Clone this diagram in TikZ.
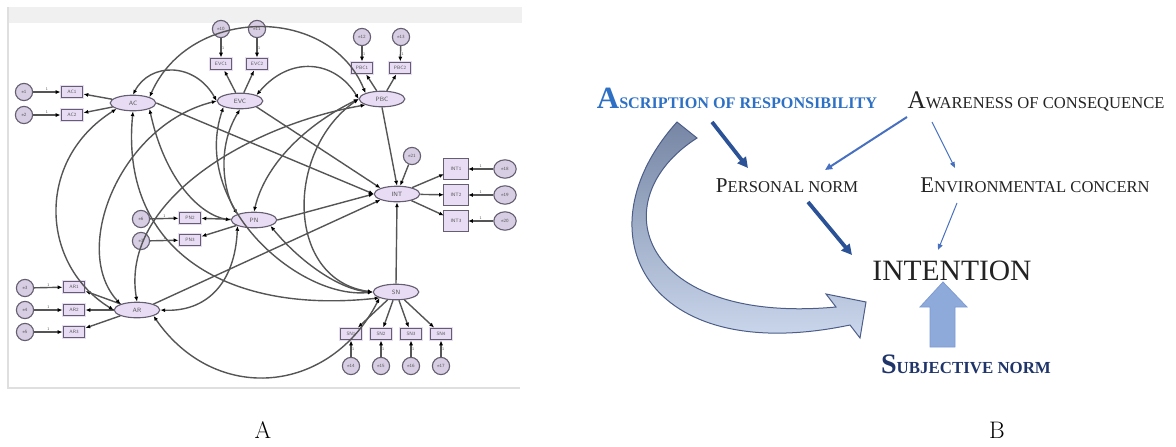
\documentclass[tikz,border=0pt]{standalone}
\usepackage{fontspec}
\newfontfamily\tms{Liberation Serif}
\usetikzlibrary{arrows.meta,shapes.geometric,calc}
\definecolor{lav}{RGB}{232,220,244}
\definecolor{errfill}{RGB}{216,206,228}
\definecolor{lavd}{RGB}{100,94,112}
\definecolor{amos}{RGB}{85,85,85}
\definecolor{aorblue}{RGB}{45,112,196}
\definecolor{navy}{RGB}{31,52,105}
\definecolor{darkb}{RGB}{43,82,150}
\definecolor{midb}{RGB}{72,112,192}
\definecolor{txt}{RGB}{35,35,35}
\newcommand{\mysc}[4]{{\fontsize{#3}{#3}\selectfont #1}{\fontsize{#4}{#4}\selectfont #2}}
\begin{document}
\begin{tikzpicture}[x=0.25mm,y=-0.25mm,
  lat/.style={ellipse,draw=lavd,fill=lav,line width=0.28mm,minimum width=11.4mm,minimum height=3.9mm,inner sep=0pt,font=\fontsize{4.4}{5}\sffamily,text=amos},
  ind/.style={rectangle,draw=lavd,double=lav,double distance=0.25mm,fill=lav,minimum width=5.6mm,minimum height=3.1mm,inner sep=0pt,font=\fontsize{3.4}{3.4}\sffamily,text=amos},
  indt/.style={ind,minimum width=5.9mm,minimum height=4.8mm},
  err/.style={circle,draw=lavd,fill=errfill,line width=0.28mm,minimum size=4.3mm,inner sep=0pt,font=\fontsize{3.4}{3.4}\sffamily,text=amos},
  errw/.style={err,ellipse,minimum width=5.6mm,minimum height=4.6mm},
  reg/.style={-{Latex[length=1.2mm,width=1mm,color=black]},draw=amos,line width=0.35mm},
  cov/.style={{Latex[length=1.2mm,width=1mm,color=black]}-{Latex[length=1.2mm,width=1mm,color=black]},draw=amos,line width=0.35mm},
  one/.style={font=\fontsize{2.8}{3}\sffamily,text=amos,inner sep=0.3pt},
  bt/.style={font=\tms,text=txt,inner sep=0pt,anchor=base},
  thickarr/.style={-{Triangle[length=2.6mm,width=2.6mm]},draw=darkb,line width=0.95mm},
  medarr/.style={-{Triangle[length=1.8mm,width=1.6mm]},draw=midb,line width=0.5mm},
  thinarr/.style={-{Triangle[length=1.5mm,width=1.2mm]},draw=midb,line width=0.25mm},
  panel/.style={font=\fontsize{17}{17}\selectfont,inner sep=0pt}
]
\useasboundingbox (0,0) rectangle (1176,446);

% ---------------- frame of the path model ----------------
\fill[gray!12] (8,7) rectangle (522,23);
\draw[gray!25,line width=0.3mm] (8,7) -- (8,388) -- (520,388);

% latent variables
\node[lat] (AC)  at (133,103) {AC};
\node[lat] (EVC) at (240,101) {EVC};
\node[lat] (PBC) at (382,99)  {PBC};
\node[lat] (INT) at (397,194) {INT};
\node[lat] (PN)  at (254,220) {PN};
\node[lat] (AR)  at (137,310) {AR};
\node[lat] (SN)  at (396,292) {SN};

% indicators
\node[ind] (AC1) at (72,92)  {AC1};
\node[ind] (AC2) at (72,115) {AC2};
\node[ind] (EVC1) at (221,64) {EVC1};
\node[ind] (EVC2) at (257,64) {EVC2};
\node[ind] (PBC1) at (362,68) {PBC1};
\node[ind] (PBC2) at (400,68) {PBC2};
\node[indt] (INT1) at (456,169) {INT1};
\node[indt] (INT2) at (456,195) {INT2};
\node[indt] (INT3) at (456,221) {INT3};
\node[ind] (PN2) at (190,218) {PN2};
\node[ind] (PN3) at (190,240) {PN3};
\node[ind] (AR1) at (74,287) {AR1};
\node[ind] (AR2) at (74,310) {AR2};
\node[ind] (AR3) at (74,332) {AR3};
\node[ind] (SN1) at (351,334) {SN1};
\node[ind] (SN2) at (381,334) {SN2};
\node[ind] (SN3) at (411,334) {SN3};
\node[ind] (SN4) at (441,334) {SN4};

% error terms
\node[err] (e1) at (24,92)  {e1};
\node[err] (e2) at (24,115) {e2};
\node[err] (e10) at (221,29) {e10};
\node[err] (e11) at (257,29) {e11};
\node[err] (e12) at (362,37) {e12};
\node[err] (e13) at (401,37) {e13};
\node[err] (e21) at (412,156) {e21};
\node[errw] (e18) at (505,169) {e18};
\node[errw] (e19) at (505,195) {e19};
\node[errw] (e20) at (505,221) {e20};
\node[err] (e6) at (141,219) {e6};
\node[err] (e7) at (141,241) {e7};
\node[err] (e3) at (25,288) {e3};
\node[err] (e4) at (25,310) {e4};
\node[err] (e5) at (25,332) {e5};
\node[err] (e14) at (351,366) {e14};
\node[err] (e15) at (381,366) {e15};
\node[err] (e16) at (411,366) {e16};
\node[err] (e17) at (441,366) {e17};

% error paths
\foreach \e/\i in {e1/AC1,e2/AC2,e6/PN2,e7/PN3,e3/AR1,e4/AR2,e5/AR3}
  \draw[reg] (\e) -- node[one,above]{1} (\i);
\foreach \e/\i in {e18/INT1,e19/INT2,e20/INT3}
  \draw[reg] (\e) -- node[one,above]{1} (\i);
\foreach \e/\i in {e10/EVC1,e11/EVC2,e12/PBC1,e13/PBC2,e14/SN1,e15/SN2,e16/SN3,e17/SN4}
  \draw[reg] (\e) -- node[one,right]{1} (\i);
\draw[reg] (e21) -- (INT);

% loadings
\foreach \l/\i in {AC/AC1,AC/AC2,EVC/EVC1,EVC/EVC2,PBC/PBC1,PBC/PBC2,INT/INT1,INT/INT2,INT/INT3,PN/PN2,PN/PN3,AR/AR1,AR/AR2,AR/AR3,SN/SN1,SN/SN2,SN/SN3,SN/SN4}
  \draw[reg] (\l) -- (\i);

% structural paths into intention
\draw[reg] (AC.east) -- (INT.west);
\draw[reg] (EVC.south east) -- (INT.north west);
\draw[reg] (PBC.south) -- (INT.north);
\draw[reg] (PN.east) -- (INT.west);
\draw[reg] (AR.north east) -- (INT.south west);
\draw[reg] (SN.north) -- (INT.south);

% covariances among exogenous constructs
\draw[cov] (AC.north) .. controls (150,62) and (195,62) .. (EVC.west);
\draw[cov] (AC.north east) .. controls (190,5) and (330,5) .. (PBC.north west);
\draw[cov] (EVC.north east) .. controls (290,55) and (335,60) .. (PBC.west);
\draw[cov] (AC.south west) .. controls (35,160) and (40,265) .. (AR.west);
\draw[cov] (EVC.west) .. controls (120,125) and (70,250) .. (AR.north west);
\draw[cov] (PBC.south west) .. controls (250,125) and (120,200) .. (AR.north);
\draw[cov] (PN.south west) .. controls (235,285) and (205,312) .. (AR.east);
\draw[cov] (AR.south east) .. controls (215,405) and (330,395) .. (SN.south west);
\draw[cov] (PBC.west) .. controls (285,150) and (285,280) .. (SN.west);
\draw[cov] (AC.south east) .. controls (165,180) and (200,215) .. (PN.west);
\draw[cov] (EVC.south) .. controls (215,150) and (225,195) .. (PN.north west);
\draw[cov] (PBC.west) .. controls (305,125) and (265,165) .. (PN.north);
\draw[cov] (EVC.south west) .. controls (190,205) and (300,300) .. (SN.west);
\draw[cov] (AC.south) .. controls (120,245) and (220,315) .. (SN.south west);
\draw[cov] (PN.south east) .. controls (300,262) and (340,290) .. (SN.west);

\node[panel] (labA) at (263,430) {A};

% ---------------- conceptual model ----------------
\node[bt,text=aorblue] (aor) at (737,108) {\bfseries\mysc{A}{SCRIPTION OF RESPONSIBILITY}{22}{11.5}};
\node[bt] (aw) at (1036,108) {\mysc{A}{WARENESS OF CONSEQUENCE}{18}{11.8}};
\node[bt] (pn) at (787,192) {\mysc{P}{ERSONAL NORM}{15}{11.8}};
\node[bt] (env) at (1035,192) {\mysc{E}{NVIRONMENTAL CONCERN}{16}{11.8}};
\node[bt,font=\tms\fontsize{21}{21}\selectfont] (int) at (952,280) {INTENTION};
\node[bt,text=navy] (sub) at (966,373) {\bfseries\mysc{S}{UBJECTIVE NORM}{20}{12}};

% curved block arrow from ascription of responsibility to intention
\path[draw=navy!80,line width=0.25mm,top color={rgb,255:red,118;green,134;blue,164},bottom color={rgb,255:red,214;green,226;blue,246}]
  (677,122) -- (697,138)
  .. controls (600,200) and (640,325) .. (836,307)
  -- (826,294) -- (866,302) -- (860,338) -- (850,325)
  .. controls (645,368) and (578,232) .. (677,122) -- cycle;

% block arrow from subjective norm to intention
\path[draw=midb!70,line width=0.2mm,fill={rgb,255:red,141;green,170;blue,218}]
  (930,347) -- (930,307) -- (920,307) -- (943,282) -- (967,307) -- (955,307) -- (955,347) -- cycle;

\draw[thickarr] ([shift={(-25,14)}]aor.base) -- ([shift={(-39,-24)}]pn.base);
\draw[medarr] ([shift={(-129,9)}]aw.base) -- ([shift={(38,-22)}]pn.base);
\draw[thinarr] ([shift={(-104,14)}]aw.base) -- ([shift={(-80,-24)}]env.base);
\draw[thinarr] ([shift={(-78,11)}]env.base) -- ([shift={(-14,-30)}]int.base);
\draw[thickarr] ([shift={(21,10)}]pn.base) -- ([shift={(-100,-25)}]int.base);

\node[panel] (labB) at (997,430) {B};
\end{tikzpicture}
\end{document}
